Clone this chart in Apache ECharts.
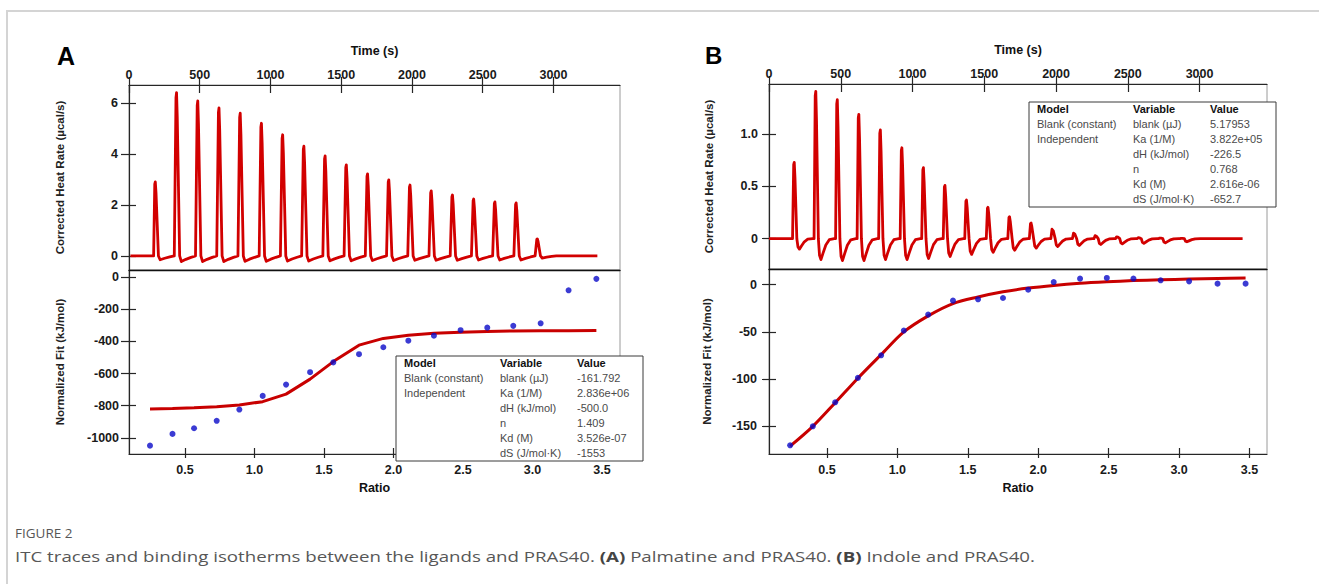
<!DOCTYPE html>
<html>
<head>
<meta charset="utf-8">
<script src="https://cdn.jsdelivr.net/npm/echarts@6/dist/echarts.min.js"></script>
<style>
html,body{margin:0;padding:0;background:#fff;}
#wrap{position:relative;width:1319px;height:584px;overflow:hidden;background:#fff;}
#frame{position:absolute;left:6px;top:10px;width:1400px;height:700px;border-left:2px solid #d4d4d4;border-top:2px solid #d4d4d4;}
#chart{position:absolute;left:0;top:0;width:1319px;height:584px;}
#cap{position:absolute;left:15px;top:526px;font-family:'Open Sans','Noto Sans',sans-serif;color:#575757;white-space:nowrap;}
#cap .fig{font-size:12.5px;line-height:16px;transform:scaleX(1.08);transform-origin:left center;}
#cap .txt{font-size:15px;line-height:20px;margin-top:4px;transform:scaleX(1.245);transform-origin:left center;}
#cap b{font-weight:700;color:#444;}
</style>
</head>
<body>
<div id="wrap">
  <div id="frame"></div>
  <div id="chart"></div>
  <div id="cap">
    <div class="fig">FIGURE 2</div>
    <div class="txt">ITC traces and binding isotherms between the ligands and PRAS40. <b>(A)</b> Palmatine and PRAS40. <b>(B)</b> Indole and PRAS40.</div>
  </div>
</div>
<script>
// ---------- tick labels ----------
const timeTicks  = [0, 500, 1000, 1500, 2000, 2500, 3000];
const ratioTicks = [0.5, 1.0, 1.5, 2.0, 2.5, 3.0, 3.5];
const heatTicksA = [0, 2, 4, 6];
const fitTicksA  = [0, -200, -400, -600, -800, -1000];
const heatTicksB = [0, 0.5, 1.0];
const fitTicksB  = [0, -50, -100, -150];

// ---------- Panel A (Palmatine) thermogram ----------
const injTimeA = [180, 330, 480, 630, 780, 930, 1080, 1230, 1380, 1530, 1680, 1830, 1980, 2130, 2280, 2430, 2580, 2730, 2880];
const peakA    = [2.9, 6.4, 6.08, 5.8, 5.6, 5.2, 4.75, 4.3, 3.92, 3.57, 3.22, 2.98, 2.78, 2.55, 2.39, 2.23, 2.12, 2.08, 0.67];
const dipA     = [-0.15, -0.22, -0.22, -0.22, -0.21, -0.21, -0.2, -0.2, -0.19, -0.19, -0.18, -0.18, -0.17, -0.17, -0.17, -0.16, -0.16, -0.16, -0.08];
const traceSpanA = [10, 3310];
// ---------- Panel A isotherm ----------
const ratioA = [0.248, 0.41, 0.565, 0.728, 0.891, 1.059, 1.227, 1.40, 1.567, 1.752, 1.927, 2.107, 2.291, 2.483, 2.675, 2.862, 3.059, 3.26, 3.46];
const heatA  = [-1048, -975, -940, -894, -824, -739, -669, -592, -531, -480, -437, -396, -365, -331, -315, -304, -288, -83, -12];
const fitA   = [-820, -817, -813, -806, -795, -775, -728, -635, -526, -424, -382, -362, -350, -343, -339, -336, -335, -334, -333];

// ---------- Panel B (Indole) thermogram ----------
const injTimeB = [170, 320, 470, 620, 770, 920, 1070, 1220, 1370, 1520, 1670, 1820, 1970, 2120, 2270, 2420, 2570, 2720, 2870];
const peakB    = [0.73, 1.41, 1.33, 1.19, 1.04, 0.87, 0.68, 0.51, 0.37, 0.30, 0.21, 0.15, 0.093, 0.055, 0.03, 0.018, 0.01, 0.006, 0.004];
const dipB     = [-0.1, -0.2, -0.21, -0.21, -0.2, -0.2, -0.19, -0.17, -0.15, -0.13, -0.11, -0.09, -0.075, -0.065, -0.055, -0.05, -0.045, -0.04, -0.03];
const traceSpanB = [0, 3300];
// ---------- Panel B isotherm ----------
const ratioB = [0.239, 0.40, 0.559, 0.72, 0.885, 1.046, 1.219, 1.395, 1.573, 1.75, 1.929, 2.11, 2.297, 2.487, 2.676, 2.869, 3.071, 3.273, 3.472];
const heatB  = [-170.1, -150, -124.6, -98.7, -74.8, -48.6, -31.7, -16.9, -15.5, -14.1, -5.3, 2.8, 6.4, 7.1, 6.4, 4.6, 3.5, 1.1, 1.1];
const fitB   = [-171, -150, -125, -99, -74, -50, -33, -20, -13, -7.5, -3.6, -0.8, 1.4, 3.0, 4.3, 5.2, 5.9, 6.5, 7.0];

// ---------- fit tables ----------
const tableHeader = ['Model', 'Variable', 'Value'];
const modelCol    = ['Blank (constant)', 'Independent', '', '', '', ''];
const variableCol = ['blank (\u00b5J)', 'Ka (1/M)', 'dH (kJ/mol)', 'n', 'Kd (M)', 'dS (J/mol\u00b7K)'];
const valuesA     = ['-161.792', '2.836e+06', '-500.0', '1.409', '3.526e-07', '-1553'];
const valuesB     = ['5.17953', '3.822e+05', '-226.5', '0.768', '2.616e-06', '-652.7'];

// Injection pulse shape: [seconds after injection, weight of peak, weight of undershoot]
const pulseShapeA = [[-6,0,0],[2,0.97,0],[6,1,0],[11,0.85,0],[28,0,0],[40,0,1],[72,0,0.6],[108,0,0.25],[140,0,0]];
const pulseShapeB = [[-6,0,0],[2,0.97,0],[6,1,0],[11,0.8,0],[24,0,0],[32,0,0.8],[42,0,1],[56,0,0.7],[76,0,0.3],[100,0,0.05],[135,0,0]];

function buildTrace(span, times, peaks, dips, shape){
  const pts = [[span[0], 0]];
  times.forEach((t, i) => {
    shape.forEach(s => pts.push([t + s[0], peaks[i]*s[1] + dips[i]*s[2]]));
  });
  pts.push([span[1], 0]);
  return pts;
}
const zip = (a, b) => a.map((v, i) => [v, b[i]]);

const FONT = "'Liberation Sans', Arial, sans-serif";
const AX = '#262626';
const tickFont = {fontFamily: FONT, fontWeight: 'bold', fontSize: 12.5, color: '#1a1a1a'};
const nameFontX = {fontFamily: FONT, fontWeight: 'bold', fontSize: 12.5, color: '#111'};
const nameFontY = {fontFamily: FONT, fontWeight: 'bold', fontSize: 11.5, color: '#222'};

function mainAxis(o){
  return {
    gridIndex: o.grid, type: 'value', min: o.min, max: o.max, position: o.pos,
    axisLine: {show: true, onZero: false, lineStyle: {color: AX, width: 1.2}},
    axisTick: {show: true, inside: false, length: o.out, customValues: o.ticks, lineStyle: {color: AX, width: 1.2}},
    axisLabel: Object.assign({show: true, customValues: o.ticks, formatter: o.fmt, margin: o.margin}, tickFont),
    splitLine: {show: false},
    name: o.name || '', nameLocation: 'middle', nameGap: o.nameGap || 0,
    nameRotate: o.nameRotate, nameMoveOverlap: false,
    nameTextStyle: o.nameRotate ? nameFontY : nameFontX
  };
}
function innerAxis(grid, min, max, pos, ticks, len){
  return {
    gridIndex: grid, type: 'value', min: min, max: max, position: pos,
    axisLine: {show: false, onZero: false},
    axisTick: {show: true, inside: true, length: len, customValues: ticks, lineStyle: {color: AX, width: 1.2}},
    axisLabel: {show: false}, splitLine: {show: false}
  };
}
function lineAxis(grid, min, max, pos){
  return {
    gridIndex: grid, type: 'value', min: min, max: max, position: pos,
    axisLine: {show: true, onZero: false, lineStyle: {color: '#111', width: 1.4}},
    axisTick: {show: false}, axisLabel: {show: false}, splitLine: {show: false}
  };
}
const fmtInt = v => String(v);
const fmt1 = v => v.toFixed(1);
const fmtB = v => (v === 0 ? '0' : v.toFixed(1));

const T_MIN = 0, T_MAX = 3470;
const RA = [0.097, 3.63], RB = [0.089, 3.624];

const xAxis = [
  mainAxis({grid:0, min:T_MIN, max:T_MAX, pos:'top', ticks:timeTicks, fmt:fmtInt, margin:4, out:8, name:'Time (s)', nameGap:28}),
  innerAxis(0, T_MIN, T_MAX, 'top', timeTicks, 8),
  mainAxis({grid:1, min:RA[0], max:RA[1], pos:'bottom', ticks:ratioTicks, fmt:fmt1, margin:9, out:4, name:'Ratio', nameGap:27}),
  innerAxis(1, RA[0], RA[1], 'bottom', ratioTicks, 6),
  lineAxis(1, RA[0], RA[1], 'top'),
  mainAxis({grid:2, min:T_MIN, max:T_MAX, pos:'top', ticks:timeTicks, fmt:fmtInt, margin:4, out:8, name:'Time (s)', nameGap:28}),
  innerAxis(2, T_MIN, T_MAX, 'top', timeTicks, 8),
  mainAxis({grid:3, min:RB[0], max:RB[1], pos:'bottom', ticks:ratioTicks, fmt:fmt1, margin:9, out:4, name:'Ratio', nameGap:27}),
  innerAxis(3, RB[0], RB[1], 'bottom', ratioTicks, 6),
  lineAxis(3, RB[0], RB[1], 'top')
];
const yAxis = [
  mainAxis({grid:0, min:-0.55, max:6.7, pos:'left', ticks:heatTicksA, fmt:fmtInt, margin:11, out:8, name:'Corrected Heat Rate (\u00b5cal/s)', nameGap:63, nameRotate:90}),
  innerAxis(0, -0.55, 6.7, 'left', heatTicksA, 7),
  mainAxis({grid:1, min:-1100, max:43, pos:'left', ticks:fitTicksA, fmt:fmtInt, margin:10, out:8, name:'Normalized Fit (kJ/mol)', nameGap:63, nameRotate:90}),
  innerAxis(1, -1100, 43, 'left', fitTicksA, 7),
  mainAxis({grid:2, min:-0.29, max:1.48, pos:'left', ticks:heatTicksB, fmt:fmtB, margin:11, out:7, name:'Corrected Heat Rate (\u00b5cal/s)', nameGap:54, nameRotate:90}),
  innerAxis(2, -0.29, 1.48, 'left', heatTicksB, 7),
  mainAxis({grid:3, min:-179.3, max:16.6, pos:'left', ticks:fitTicksB, fmt:fmtInt, margin:12, out:7, name:'Normalized Fit (kJ/mol)', nameGap:56, nameRotate:90}),
  innerAxis(3, -179.3, 16.6, 'left', fitTicksB, 7)
];

const gridBase = {show: true, borderColor: '#9a9a9a', borderWidth: 1, backgroundColor: 'transparent', containLabel: false, outerBoundsMode: 'none'};
const grid = [
  Object.assign({left: 129, top: 85, width: 491, height: 185}, gridBase),
  Object.assign({left: 129, top: 270, width: 491, height: 184}, gridBase),
  Object.assign({left: 769, top: 84, width: 498, height: 185}, gridBase),
  Object.assign({left: 769, top: 269, width: 498, height: 185}, gridBase)
];

const RED = '#d20000';
const series = [
  {type:'line', name:'Thermogram A', xAxisIndex:0, yAxisIndex:0, data: buildTrace(traceSpanA, injTimeA, peakA, dipA, pulseShapeA),
   showSymbol:false, lineStyle:{color:RED, width:2.8, join:'round'}, z:3},
  {type:'line', name:'Fit A', xAxisIndex:2, yAxisIndex:2, data: zip(ratioA, fitA),
   showSymbol:false, lineStyle:{color:'#c80000', width:3}, z:3},
  {type:'scatter', name:'Data A', xAxisIndex:2, yAxisIndex:2, data: zip(ratioA, heatA),
   symbolSize:6, itemStyle:{color:'#0a0ac8'}, z:4},
  {type:'line', name:'Thermogram B', xAxisIndex:5, yAxisIndex:4, data: buildTrace(traceSpanB, injTimeB, peakB, dipB, pulseShapeB),
   showSymbol:false, lineStyle:{color:RED, width:2.8, join:'round'}, z:3},
  {type:'line', name:'Fit B', xAxisIndex:7, yAxisIndex:6, data: zip(ratioB, fitB), smooth:0.3,
   showSymbol:false, lineStyle:{color:'#c80000', width:3}, z:3},
  {type:'scatter', name:'Data B', xAxisIndex:7, yAxisIndex:6, data: zip(ratioB, heatB),
   symbolSize:6, itemStyle:{color:'#0a0ac8'}, z:4}
];

function tableGraphic(x, y, values){
  const cols = [8, 104, 181];
  const children = [{type:'rect', z:100, shape:{x:0, y:0, width:247, height:105},
    style:{fill:'#ffffff', stroke:'#3a3a3a', lineWidth:1}}];
  tableHeader.forEach((h, i) => children.push({type:'text', z:101, x: cols[i], y: 7,
    style:{text:h, fill:'#111', font:"bold 11px 'Liberation Sans', Arial, sans-serif", verticalAlign:'middle'}}));
  variableCol.forEach((v, r) => {
    const yy = 22 + r*15;
    const cells = [modelCol[r], v, values[r]];
    cells.forEach((c, i) => { if (c) children.push({type:'text', z:101, x: cols[i], y: yy,
      style:{text:c, fill:'#4a4a4a', font:"11px 'Liberation Sans', Arial, sans-serif", verticalAlign:'middle'}}); });
  });
  return {type:'group', x: x, y: y, z: 100, children: children};
}

const option = {
  animation: false,
  backgroundColor: 'transparent',
  grid: grid,
  xAxis: xAxis,
  yAxis: yAxis,
  series: series,
  graphic: [
    tableGraphic(396, 356, valuesA),
    tableGraphic(1029, 102, valuesB),
    {type:'text', x:57, y:56, z:100, style:{text:'A', fill:'#000', font:"bold 25px 'Liberation Sans', Arial, sans-serif", verticalAlign:'middle'}},
    {type:'text', x:705, y:55, z:100, style:{text:'B', fill:'#000', font:"bold 24px 'Liberation Sans', Arial, sans-serif", verticalAlign:'middle'}}
  ]
};
const chart = echarts.init(document.getElementById('chart'), null, {renderer:'svg', width:1319, height:584});
chart.setOption(option);
</script>
</body>
</html>
